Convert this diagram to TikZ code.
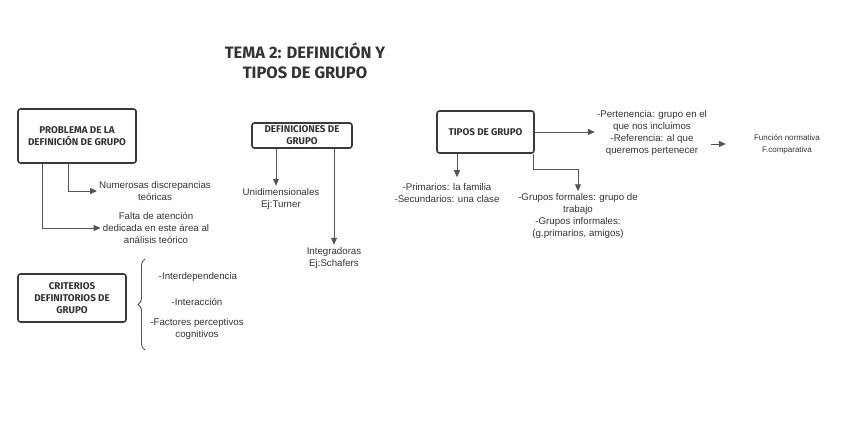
\documentclass[tikz,border=0pt]{standalone}
\usepackage{fontspec}
\setmainfont{Liberation Sans}
\newfontfamily\capsfont{Fira Sans}
\usetikzlibrary{arrows.meta,positioning,decorations.pathreplacing}
\definecolor{linegray}{HTML}{555555}
\definecolor{boxgray}{HTML}{3A3A3A}
\definecolor{txtgray}{HTML}{333333}
\begin{document}
\begin{tikzpicture}[
    x=1pt,y=-1pt,
    topic/.style={draw=boxgray,line width=1.6pt,rounded corners=2.5pt,align=center,
      text=txtgray,font=\capsfont\bfseries\fontsize{9.8}{12}\selectfont,inner sep=0pt},
    item/.style={align=center,text=txtgray,font=\fontsize{9.7}{12}\selectfont,inner sep=2pt},
    small/.style={align=center,text=txtgray,font=\fontsize{8}{12}\selectfont,inner sep=2pt},
    arr/.style={draw=linegray,line width=0.9pt,-{Triangle[length=7pt,width=6pt]}}
]
\useasboundingbox (0,0) rectangle (848,435);

\node[align=center,text=txtgray,font=\capsfont\bfseries\fontsize{16.5}{20.5}\selectfont] (title) at (305,61) {TEMA 2: DEFINICIÓN Y\\TIPOS DE GRUPO};

% problema
\node[topic,minimum width=118,minimum height=54] (prob) at (77,136) {PROBLEMA DE LA\\DEFINICIÓN DE GRUPO};
\node[item] (numer) at (155,191) {Numerosas discrepancias\\teóricas};
\node[item] (falta) at (156,228) {Falta de atención\\dedicada en este área al\\análisis teórico};
\draw[arr] (prob.south -| 68,0) |- (numer.west);
\draw[arr] (prob.south -| 42,0) |- (falta.west);

% definiciones
\node[topic,minimum width=100,minimum height=25] (defs) at (302,135.5) {DEFINICIONES DE\\GRUPO};
\node[item] (unid) at (281,198.5) {Unidimensionales\\Ej:Turner};
\node[item] (integ) at (334,257.5) {Integradoras\\Ej:Schafers};
\draw[arr] (defs.south -| 276,0) -- (unid.north -| 276,0);
\draw[arr] (defs.south -| 334,0) -- (integ.north);

% tipos
\node[topic,minimum width=97,minimum height=42] (tipos) at (485.5,132) {TIPOS DE GRUPO};
\node[item] (pert) at (652,132.5) {-Pertenencia: grupo en el\\que nos incluimos\\-Referencia: al que\\queremos pertenecer};
\node[small] (func) at (787,144) {Función normativa\\F.comparativa};
\node[item] (prim) at (447,193) {-Primarios: la familia\\-Secundarios: una clase};
\node[item] (formal) at (578,216) {-Grupos formales: grupo de\\trabajo\\-Grupos informales:\\(g.primarios, amigos)};
\draw[arr] (tipos.east) -- (tipos.east -| pert.west);
\draw[arr] ([xshift=2pt]pert.east |- func.west) -- ([xshift=-26pt]func.west);
\draw[arr] (tipos.south -| 457,0) -- ([yshift=4pt]prim.north -| 457,0);
\draw[arr] (tipos.south -| 533,0) |- (578,169) -- (formal.north);

% criterios
\node[topic,minimum width=108,minimum height=48] (crit) at (72,298) {CRITERIOS\\DEFINITORIOS DE\\GRUPO};
\coordinate (bracetop) at (145,259);
\coordinate (bracebot) at (145,350);
\draw[linegray,line width=0.9pt,decorate,decoration={brace,amplitude=7pt}] (bracebot) -- (bracetop);
\node[item] (interdep) at (198,277) {-Interdependencia};
\node[item] (interac) at (197,302) {-Interacción};
\node[item] (factores) at (197,329) {-Factores perceptivos\\cognitivos};
\end{tikzpicture}
\end{document}
